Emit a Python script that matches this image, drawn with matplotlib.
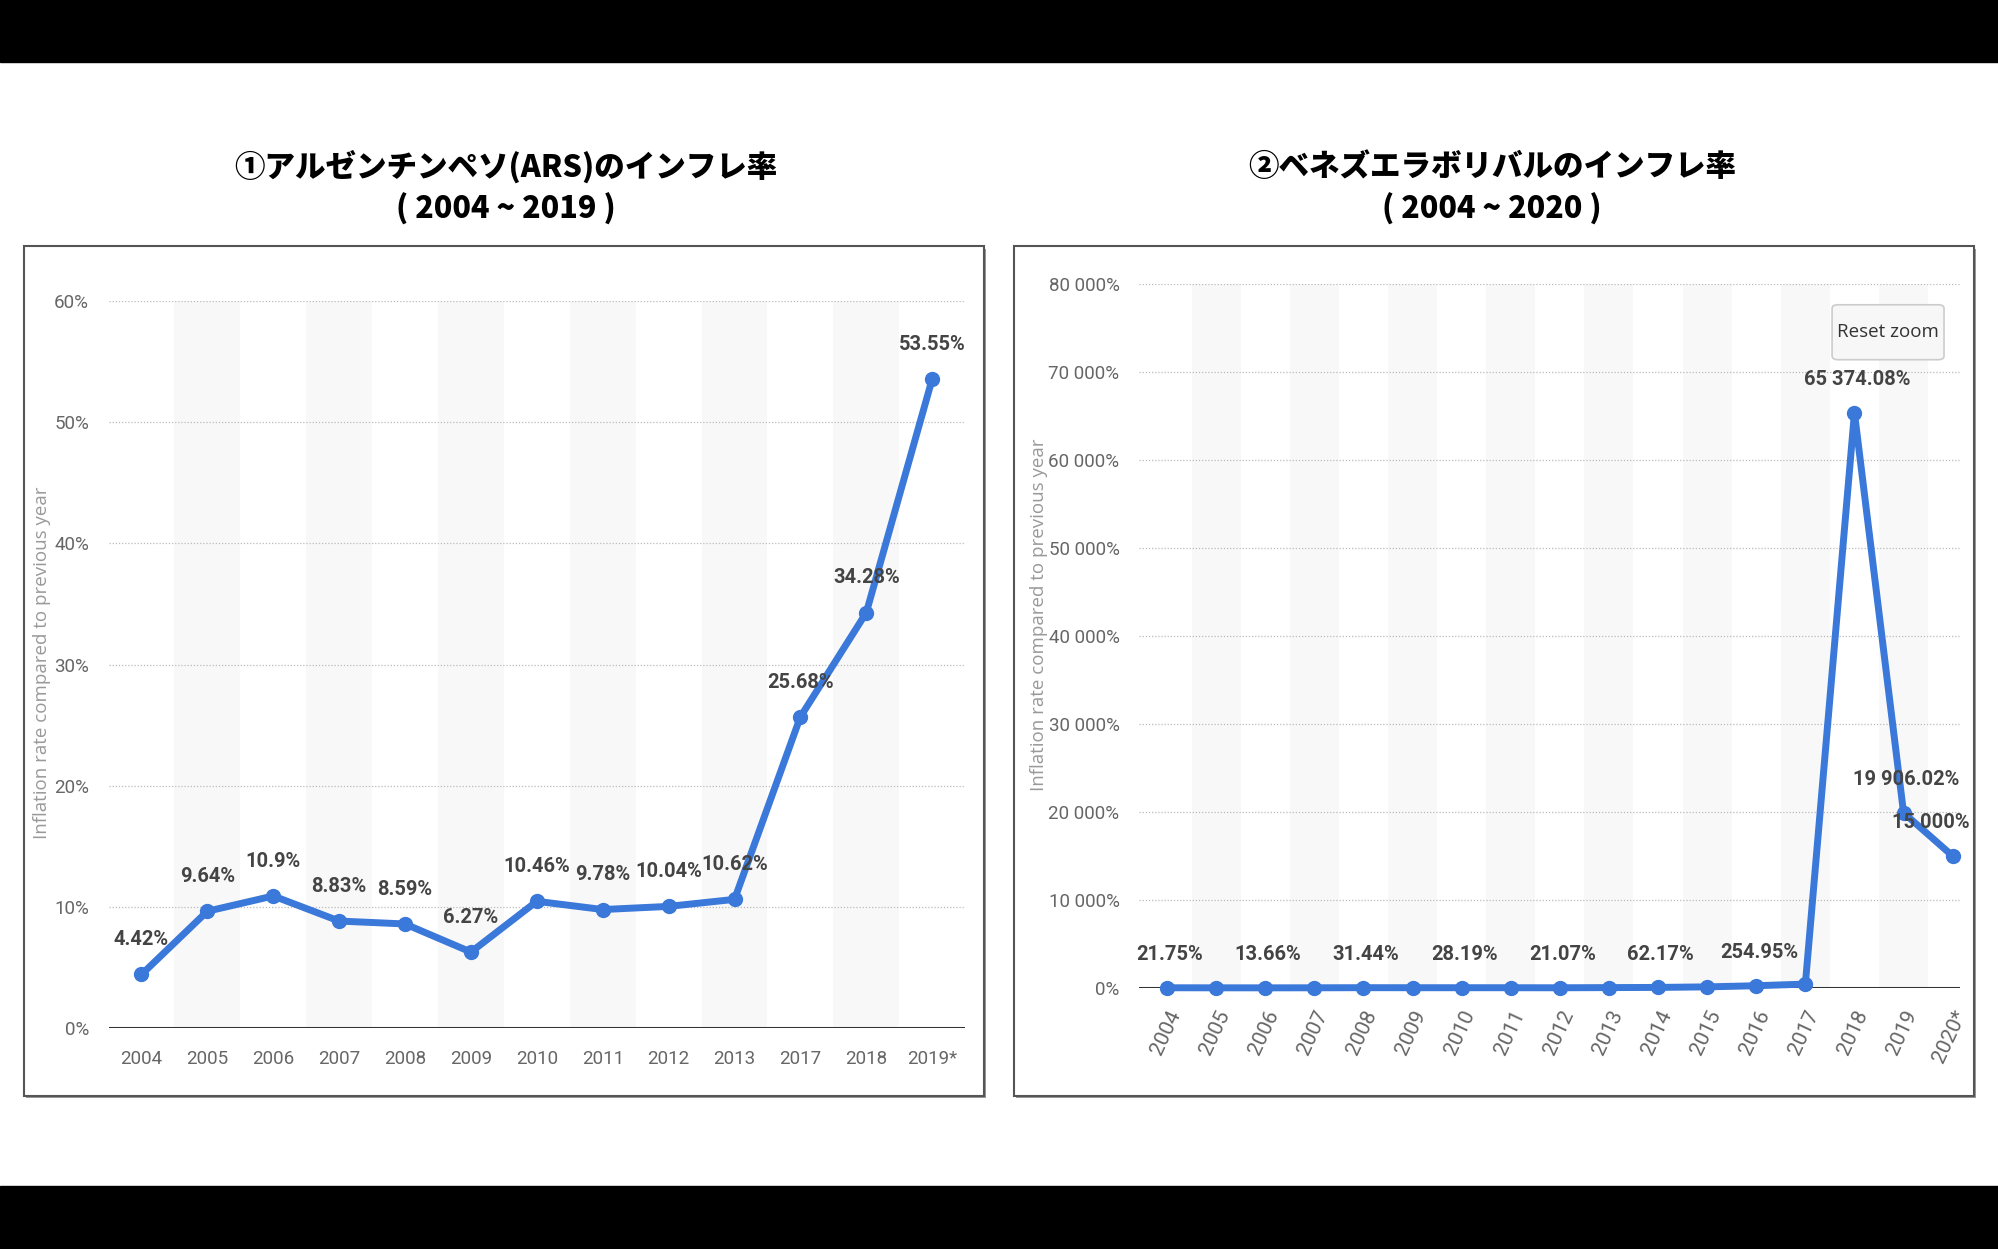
import matplotlib
matplotlib.use("Agg")
import matplotlib.pyplot as plt
from matplotlib.patches import Rectangle, FancyBboxPatch

# data
ars_years = ["2004", "2005", "2006", "2007", "2008", "2009", "2010",
             "2011", "2012", "2013", "2017", "2018", "2019*"]
ars_rate = [4.42, 9.64, 10.9, 8.83, 8.59, 6.27, 10.46,
            9.78, 10.04, 10.62, 25.68, 34.28, 53.55]

ves_years = ["2004", "2005", "2006", "2007", "2008", "2009", "2010", "2011",
             "2012", "2013", "2014", "2015", "2016", "2017", "2018", "2019", "2020*"]
ves_rate = [21.75, 16.0, 13.66, 18.7, 31.44, 26.9, 28.19, 26.09,
            21.07, 40.64, 62.17, 121.74, 254.95, 438.12, 65374.08, 19906.02, 15000]
ves_labelled = ["2004", "2006", "2008", "2010", "2012", "2014", "2016", "2018", "2019", "2020*"]

ars_ticks = [0, 10, 20, 30, 40, 50, 60]
ves_ticks = [0, 10000, 20000, 30000, 40000, 50000, 60000, 70000, 80000]

title_left = "①アルゼンチンペソ(ARS)のインフレ率"
title_right = "②ベネズエラボリバルのインフレ率"
sub_left = "( 2004 ~ 2019 )"
sub_right = "( 2004 ~ 2020 )"
ylabel = "Inflation rate compared to previous year"

BLUE = "#3a78d9"
NARROW = ["Roboto", "DejaVu Sans"]
JP = ["Noto Sans CJK JP", "DejaVu Sans"]
OPEN = ["Open Sans", "DejaVu Sans"]


def pct(v):
    s = f"{v:,.2f}".rstrip("0").rstrip(".")
    return s.replace(",", " ") + "%"


fig = plt.figure(figsize=(19.99, 12.49), dpi=100)
fig.patch.set_facecolor("white")

# black bands at top and bottom of the screenshot
fig.patches.append(Rectangle((0, 0.9504), 1, 0.0496, transform=fig.transFigure,
                             color="black", zorder=-5))
fig.patches.append(Rectangle((0, 0), 1, 0.0504, transform=fig.transFigure,
                             color="black", zorder=-5))

# framed panels
for x0 in (0.012, 0.5073):
    fig.patches.append(Rectangle((x0 + 0.0012, 0.1225 - 0.002), 0.480, 0.6805,
                                 transform=fig.transFigure, facecolor="#9a9a9a",
                                 edgecolor="none", zorder=-4))
    fig.patches.append(Rectangle((x0, 0.1225), 0.480, 0.6805, transform=fig.transFigure,
                                 facecolor="white", edgecolor="#555555", lw=1.5, zorder=-3))

# titles
for cx, t1, t2 in ((0.253, title_left, sub_left), (0.7464, title_right, sub_right)):
    fig.text(cx, 0.867, t1, ha="center", va="center", fontsize=22,
             fontweight="heavy", family=JP)
    fig.text(cx, 0.833, t2, ha="center", va="center", fontsize=22,
             fontweight="heavy", family=JP)


def style(ax, ncat):
    for s in ax.spines.values():
        s.set_visible(False)
    ax.set_facecolor("none")
    for i in range(1, ncat, 2):
        ax.axvspan(i - 0.5, i + 0.5, color="#f8f8f8", zorder=0, lw=0)
    ax.yaxis.grid(True, linestyle=(0, (1, 1.5)), color="#bbbbbb", lw=0.9)
    ax.set_axisbelow(True)
    ax.tick_params(axis="both", length=0, colors="#666666", labelsize=13.5)
    for lab in ax.get_xticklabels() + ax.get_yticklabels():
        lab.set_family(NARROW)
    ax.axhline(0, color="#333333", lw=2.2, zorder=2)


# left chart: Argentina
ax1 = fig.add_axes([0.0543, 0.1769, 0.4285, 0.5821])
x1 = list(range(len(ars_years)))
ax1.plot(x1, ars_rate, color=BLUE, lw=5, marker="o", ms=10, zorder=3,
         clip_on=False, solid_joinstyle="round")
ax1.set_xlim(-0.5, len(ars_years) - 0.5)
ax1.set_ylim(0, 60)
ax1.set_yticks(ars_ticks)
ax1.set_yticklabels([f"{t}%" for t in ars_ticks])
ax1.set_xticks(x1)
ax1.set_xticklabels(ars_years)
ax1.tick_params(axis="x", pad=16)
ax1.tick_params(axis="y", pad=14)
style(ax1, len(ars_years))
for xi, v in zip(x1, ars_rate):
    ax1.annotate(pct(v), (xi, v), xytext=(0, 25), textcoords="offset points",
                 ha="center", va="center", fontsize=14.5, fontweight="bold",
                 color="#444444", family=NARROW, zorder=4)
fig.text(0.021, 0.469, ylabel, rotation=90, ha="center", va="center",
         fontsize=13.5, color="#999999", family=OPEN)

# right chart: Venezuela
ax2 = fig.add_axes([0.5698, 0.209, 0.4107, 0.5636])
x2 = list(range(len(ves_years)))
ax2.plot(x2, ves_rate, color=BLUE, lw=5, marker="o", ms=10, zorder=3,
         clip_on=False, solid_joinstyle="round")
ax2.set_xlim(-0.57, len(ves_years) - 0.85)
ax2.set_ylim(0, 80000)
ax2.set_yticks(ves_ticks)
ax2.set_yticklabels([pct(t) for t in ves_ticks])
ax2.set_xticks(x2)
ax2.set_xticklabels(ves_years, rotation=65, ha="right", rotation_mode="anchor")
ax2.tick_params(axis="x", pad=14)
ax2.tick_params(axis="y", pad=14)
style(ax2, len(ves_years))
for lab in ax2.get_xticklabels():
    lab.set_fontsize(15)
for xi, yr, v in zip(x2, ves_years, ves_rate):
    if yr not in ves_labelled:
        continue
    dx = -16 if yr == "2020*" else 2
    ax2.annotate(pct(v), (xi, v), xytext=(dx, 24), textcoords="offset points",
                 ha="center", va="center", fontsize=14.5, fontweight="bold",
                 color="#444444", family=NARROW, zorder=4)
fig.text(0.52, 0.508, ylabel, rotation=90, ha="center", va="center",
         fontsize=13.5, color="#999999", family=OPEN)

# "Reset zoom" button
btn = FancyBboxPatch((0.9165, 0.712), 0.056, 0.044, transform=fig.transFigure,
                     boxstyle="round,pad=0,rounding_size=0.003", facecolor="#f7f7f7",
                     edgecolor="#cccccc", lw=1.2, zorder=5)
fig.patches.append(btn)
fig.text(0.9445, 0.734, "Reset zoom", ha="center", va="center", fontsize=13.5,
         color="#333333", family=OPEN, zorder=6)

fig.savefig("out.png", dpi=100, facecolor="white")
